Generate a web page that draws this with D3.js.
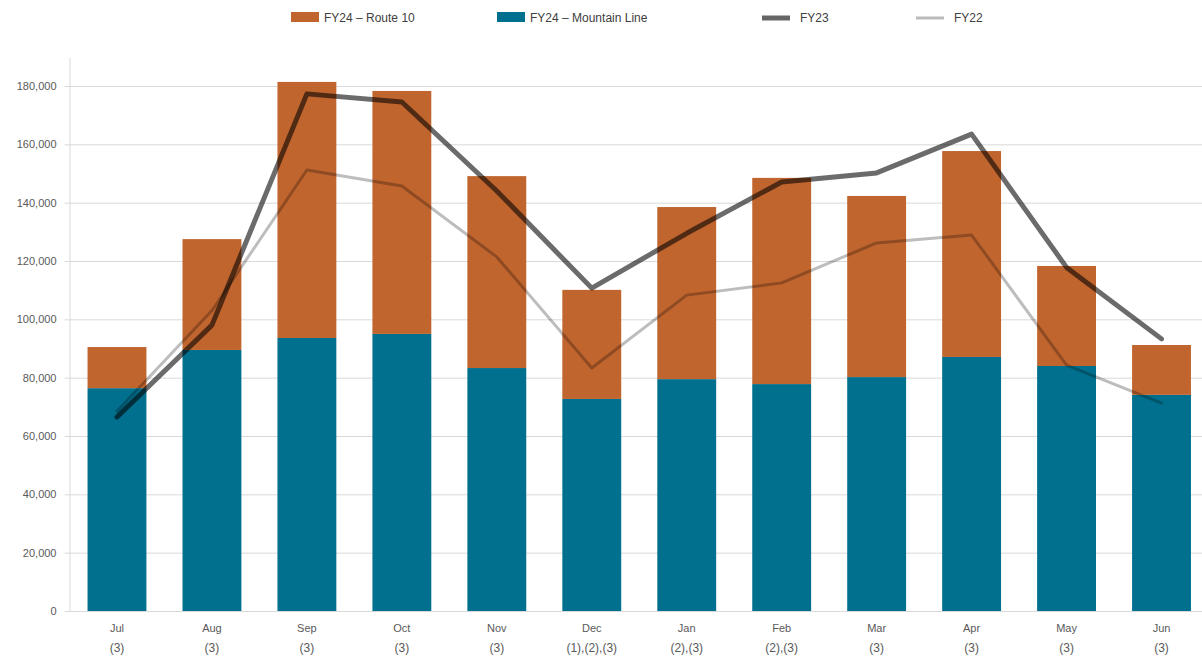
<!DOCTYPE html>
<html>
<head>
<meta charset="utf-8">
<script src="https://cdn.jsdelivr.net/npm/d3@7"></script>
<style>
  html, body { margin: 0; padding: 0; background: #ffffff; }
  svg { display: block; font-family: "Liberation Sans", Arial, sans-serif; }
</style>
</head>
<body>
<svg id="chart" width="1202" height="659"></svg>
<script>
// Monthly ridership, FY24 stacked by service, with FY23 and FY22 totals as lines
const months = ["Jul", "Aug", "Sep", "Oct", "Nov", "Dec", "Jan", "Feb", "Mar", "Apr", "May", "Jun"];
const notes = ["(3)", "(3)", "(3)", "(3)", "(3)", "(1),(2),(3)", "(2),(3)", "(2),(3)", "(3)", "(3)", "(3)", "(3)"];
const mountainLine = [76400, 89500, 93600, 95000, 83300, 72700, 79500, 77800, 80200, 87100, 84000, 74100];
const route10 = [14100, 38000, 87800, 83300, 65800, 37400, 59000, 70700, 62100, 70600, 34300, 17100];
const fy23 = [66500, 98000, 177300, 174500, 144000, 110700, 129500, 147100, 150200, 163500, 117800, 93300];
const fy22 = [68500, 103000, 151200, 145700, 121400, 83300, 108300, 112500, 126200, 128900, 84300, 71300];
const yTicks = [0, 20000, 40000, 60000, 80000, 100000, 120000, 140000, 160000, 180000];

const seriesNames = ["FY24 \u2013 Route 10", "FY24 \u2013 Mountain Line", "FY23", "FY22"];

const colors = {
  mountain: "#00708E",
  route: "#C1652F",
  axis: "#D9D9D9",
  text: "#595959"
};

const svg = d3.select("#chart");
const plot = { left: 69.5, right: 1209, top: 58, bottom: 611 };

const x = d3.scaleBand()
  .domain(months)
  .range([plot.left, plot.right])
  .paddingInner(0.38)
  .paddingOuter(0.19);

const y = d3.scaleLinear()
  .domain([0, 180000])
  .range([plot.bottom, plot.bottom - 525]);

// Horizontal gridlines and y-axis labels
const yAxis = d3.axisLeft(y)
  .tickValues(yTicks)
  .tickFormat(d3.format(","))
  .tickSize(-(1202 - plot.left))
  .tickPadding(12);

const gy = svg.append("g")
  .attr("transform", `translate(${plot.left},0)`)
  .call(yAxis);
gy.select(".domain").remove();
gy.selectAll(".tick line")
  .attr("stroke", colors.axis)
  .attr("stroke-width", 1)
  .attr("x1", -5);
gy.selectAll(".tick text")
  .attr("fill", colors.text)
  .attr("font-size", 11)
  .attr("x", -13);

// Left axis line
svg.append("line")
  .attr("x1", plot.left + 0.5).attr("x2", plot.left + 0.5)
  .attr("y1", plot.top).attr("y2", plot.bottom)
  .attr("stroke", colors.axis);

// Stacked bars
const stackData = months.map((m, i) => ({ month: m, mountain: mountainLine[i], route: route10[i] }));
const stack = d3.stack().keys(["mountain", "route"])(stackData);

svg.append("g")
  .selectAll("g")
  .data(stack)
  .join("g")
  .attr("fill", d => colors[d.key])
  .selectAll("rect")
  .data(d => d)
  .join("rect")
  .attr("x", d => x(d.data.month))
  .attr("width", x.bandwidth())
  .attr("y", d => y(d[1]))
  .attr("height", d => y(d[0]) - y(d[1]));

// Bottom axis
const xAxis = d3.axisBottom(x).tickSize(0).tickFormat("");
const gx = svg.append("g")
  .attr("transform", `translate(0,${plot.bottom})`)
  .call(xAxis);
gx.select(".domain").attr("stroke", colors.axis);

// Month labels with footnote markers
const labels = svg.append("g")
  .attr("fill", colors.text)
  .attr("text-anchor", "middle");
labels.selectAll("text.month")
  .data(months)
  .join("text")
  .attr("class", "month")
  .attr("font-size", 11)
  .attr("x", d => x(d) + x.bandwidth() / 2)
  .attr("y", 632)
  .text(d => d);
labels.selectAll("text.note")
  .data(notes)
  .join("text")
  .attr("class", "note")
  .attr("font-size", 12)
  .attr("x", (d, i) => x(months[i]) + x.bandwidth() / 2)
  .attr("y", 652)
  .text(d => d);

// Prior-year total lines
const line = d3.line()
  .x((d, i) => x(months[i]) + x.bandwidth() / 2)
  .y(d => y(d));

svg.append("path")
  .datum(fy22)
  .attr("d", line)
  .attr("fill", "none")
  .attr("stroke", "#000")
  .attr("stroke-opacity", 0.26)
  .attr("stroke-width", 3)
  .attr("stroke-linejoin", "round")
  .attr("stroke-linecap", "round");

svg.append("path")
  .datum(fy23)
  .attr("d", line)
  .attr("fill", "none")
  .attr("stroke", "#000")
  .attr("stroke-opacity", 0.58)
  .attr("stroke-width", 5)
  .attr("stroke-linejoin", "round")
  .attr("stroke-linecap", "round");

// Legend
const legendItems = [
  { name: seriesNames[0], type: "rect", color: colors.route, x: 291 },
  { name: seriesNames[1], type: "rect", color: colors.mountain, x: 497 },
  { name: seriesNames[2], type: "line", color: "#666666", width: 5, x: 762 },
  { name: seriesNames[3], type: "line", color: "#BBBBBB", width: 3, x: 916 }
];
const legend = svg.append("g");
const li = legend.selectAll("g")
  .data(legendItems)
  .join("g")
  .attr("transform", d => `translate(${d.x},0)`);
li.filter(d => d.type === "rect")
  .append("rect")
  .attr("x", 0).attr("y", 12)
  .attr("width", 28).attr("height", 10)
  .attr("fill", d => d.color);
li.filter(d => d.type === "line")
  .append("line")
  .attr("x1", 0).attr("x2", 28)
  .attr("y1", 18).attr("y2", 18)
  .attr("stroke", d => d.color)
  .attr("stroke-width", d => d.width);
li.append("text")
  .attr("x", d => d.type === "rect" ? 33 : 38)
  .attr("y", 18)
  .attr("dy", "0.35em")
  .attr("font-size", 12)
  .attr("fill", "#404040")
  .text(d => d.name);
</script>
</body>
</html>
